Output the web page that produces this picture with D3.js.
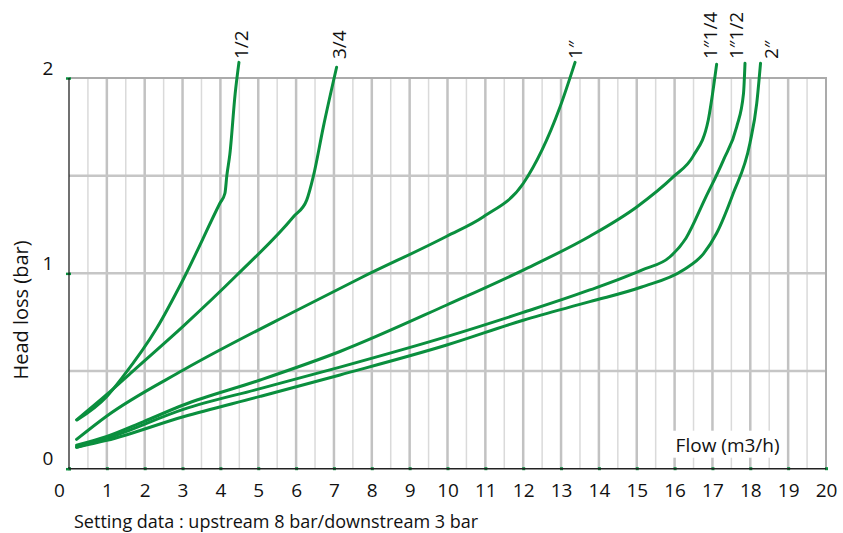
<!DOCTYPE html>
<html lang="en">
<head>
<meta charset="UTF-8">
<title>Head loss chart</title>
<script src="https://d3js.org/d3.v7.min.js"></script>
<style>
  body { margin: 0; background: #fff; }
  text { font-family: "Open Sans", sans-serif; fill: #111; }
</style>
</head>
<body>
<script>
  // pipe sizes (curve labels)
  var sizes = ["1/2", "3/4", "1\u2033", "1\u20331/4", "1\u20331/2", "2\u2033"];

  // flow (m3/h) and head loss (bar)
  var flowHalf  = [0.22, 1.0, 1.42, 2.32, 3.02, 3.99, 4.12, 4.17, 4.25, 4.39, 4.49];
  var lossHalf  = [0.25, 0.37, 0.47, 0.72, 0.97, 1.36, 1.41, 1.5, 1.61, 1.92, 2.08];

  var flow34    = [0.2, 1.0, 1.69, 3.02, 4.43, 5.93, 6.28, 6.46, 6.72, 7.07];
  var loss34    = [0.25, 0.38, 0.5, 0.73, 0.99, 1.29, 1.375, 1.5, 1.75, 2.055];

  var flow1     = [0.2, 1.0, 3.02, 6.01, 7.69, 9.98, 10.95, 12.0, 12.97, 13.37];
  var loss1     = [0.15, 0.27, 0.505, 0.81, 0.975, 1.19, 1.29, 1.46, 1.85, 2.08];

  var flow114   = [0.2, 1.0, 1.96, 3.02, 5.05, 7.16, 9.98, 12.0, 13.76, 15.0, 15.97, 16.49, 16.89, 16.98, 17.11];
  var loss114   = [0.12, 0.165, 0.24, 0.326, 0.454, 0.6, 0.838, 1.017, 1.19, 1.34, 1.495, 1.6, 1.785, 1.89, 2.07];

  var flow112   = [0.2, 1.0, 3.02, 5.05, 7.16, 9.98, 12.0, 13.76, 15.13, 15.88, 16.3, 16.8, 17.29, 17.64, 17.82, 17.86];
  var loss112   = [0.11, 0.155, 0.304, 0.41, 0.52, 0.676, 0.80, 0.915, 1.017, 1.085, 1.18, 1.38, 1.58, 1.75, 1.92, 2.075];

  var flow2     = [0.2, 1.0, 3.02, 5.05, 7.16, 9.98, 12.0, 13.76, 15.13, 16.23, 16.76, 17.11, 17.55, 17.99, 18.17, 18.27];
  var loss2     = [0.11, 0.145, 0.266, 0.37, 0.48, 0.633, 0.76, 0.855, 0.93, 1.017, 1.10, 1.205, 1.41, 1.666, 1.87, 2.075];

  var xTicks = d3.range(0, 21);
  var yTicks = [0, 1, 2];
  var yGrid = [0.5, 1, 1.5];

  var flows = [flowHalf, flow34, flow1, flow114, flow112, flow2];
  var losses = [lossHalf, loss34, loss1, loss114, loss112, loss2];
  var series = sizes.map(function(s, i) {
    return { name: s, points: flows[i].map(function(f, j) { return [f, losses[i][j]]; }) };
  });

  var width = 843, height = 533;
  var svg = d3.select("body").append("svg")
      .attr("width", width)
      .attr("height", height);

  var x = d3.scaleLinear().domain([0, 20]).range([69, 826]);
  var y = d3.scaleLinear().domain([0, 2]).range([468.7, 78]);

  // grid - half steps first (lighter), then whole numbers
  var halfSteps = d3.range(0.5, 20, 1);
  svg.append("g").selectAll("line")
      .data(halfSteps)
      .join("line")
      .attr("x1", function(d) { return x(d); })
      .attr("x2", function(d) { return x(d); })
      .attr("y1", y(0))
      .attr("y2", y(2))
      .attr("stroke", "#dadada")
      .attr("stroke-width", 1.5);

  svg.append("g").selectAll("line")
      .data(d3.range(1, 20))
      .join("line")
      .attr("x1", function(d) { return x(d); })
      .attr("x2", function(d) { return x(d); })
      .attr("y1", y(0))
      .attr("y2", y(2))
      .attr("stroke", "#c2c2c2")
      .attr("stroke-width", 2.5);

  svg.append("g").selectAll("line")
      .data(yGrid)
      .join("line")
      .attr("x1", x(0))
      .attr("x2", x(20))
      .attr("y1", function(d) { return y(d); })
      .attr("y2", function(d) { return y(d); })
      .attr("stroke", "#c6c6c6")
      .attr("stroke-width", 2.5);

  // top and right border
  svg.append("path")
      .attr("d", "M" + x(0) + "," + y(2) + "H" + x(20) + "V" + y(0))
      .attr("fill", "none")
      .attr("stroke", "#ababab")
      .attr("stroke-width", 2);

  // axes
  var xAxis = svg.append("g")
      .attr("transform", "translate(0," + y(0) + ")")
      .call(d3.axisBottom(x).tickValues(xTicks).tickSize(3).tickFormat(d3.format("d")));
  xAxis.select(".domain").remove();
  xAxis.selectAll(".tick line")
      .attr("y1", -1.5).attr("y2", 1.5)
      .attr("stroke", "#0a8f3e").attr("stroke-width", 3);
  xAxis.selectAll(".tick text")
      .attr("y", 28).attr("dy", 0)
      .attr("dx", function(d) { return d === 0 ? -10 : 0; })
      .style("font-size", "19px")
      .style("font-family", "'Open Sans', sans-serif")
      .attr("fill", "#111");

  var yAxis = svg.append("g")
      .attr("transform", "translate(" + x(0) + ",0)")
      .call(d3.axisLeft(y).tickValues(yTicks).tickSize(0).tickFormat(d3.format("d")));
  yAxis.select(".domain").remove();
  yAxis.selectAll(".tick line")
      .attr("x1", -3).attr("x2", 2)
      .attr("stroke", "#0a8f3e").attr("stroke-width", 2.5);
  yAxis.selectAll(".tick text")
      .attr("x", -21).attr("y", -4).attr("dy", 0)
      .attr("text-anchor", "middle")
      .style("font-size", "19px")
      .style("font-family", "'Open Sans', sans-serif")
      .attr("fill", "#111");

  // black axis lines
  svg.append("line")
      .attr("x1", x(0)).attr("x2", x(0))
      .attr("y1", y(0)).attr("y2", y(2))
      .attr("stroke", "#111").attr("stroke-width", 1.2);
  svg.append("line")
      .attr("x1", x(0)).attr("x2", x(20))
      .attr("y1", y(0)).attr("y2", y(0))
      .attr("stroke", "#222").attr("stroke-width", 1.5);

  // flow label with white box behind it
  var flowLabel = svg.append("text")
      .attr("x", x(16) + 1)
      .attr("y", y(0) - 17)
      .style("font-size", "19px")
      .text("Flow (m3/h)");
  var bb = flowLabel.node().getBBox();
  svg.insert("rect", function() { return flowLabel.node(); })
      .attr("x", bb.x - 3)
      .attr("y", bb.y - 1)
      .attr("width", bb.width + 8)
      .attr("height", bb.height + 1)
      .attr("fill", "#fff");

  // curves
  var line = d3.line()
      .x(function(d) { return x(d[0]); })
      .y(function(d) { return y(d[1]); })
      .curve(d3.curveMonotoneX);

  svg.append("g").selectAll("path")
      .data(series)
      .join("path")
      .attr("d", function(d) { return line(d.points); })
      .attr("fill", "none")
      .attr("stroke", "#0a8f3e")
      .attr("stroke-width", 3)
      .attr("stroke-linecap", "round");

  // curve labels, rotated at the top end of each curve
  var labelShift = [9, 9, 7, 0, -2, 17];
  svg.append("g").selectAll("text")
      .data(series)
      .join("text")
      .attr("transform", function(d, i) {
        var last = d.points[d.points.length - 1];
        return "translate(" + (x(last[0]) + labelShift[i]) + ",59) rotate(-90)";
      })
      .style("font-size", "19px")
      .text(function(d) { return d.name; });

  // axis title and note
  svg.append("text")
      .attr("transform", "translate(28,310) rotate(-90)")
      .attr("text-anchor", "middle")
      .style("font-size", "20px")
      .text("Head loss (bar)");

  svg.append("text")
      .attr("x", 74)
      .attr("y", 528)
      .style("font-size", "18px")
      .text("Setting data : upstream 8 bar/downstream 3 bar");
</script>
</body>
</html>
